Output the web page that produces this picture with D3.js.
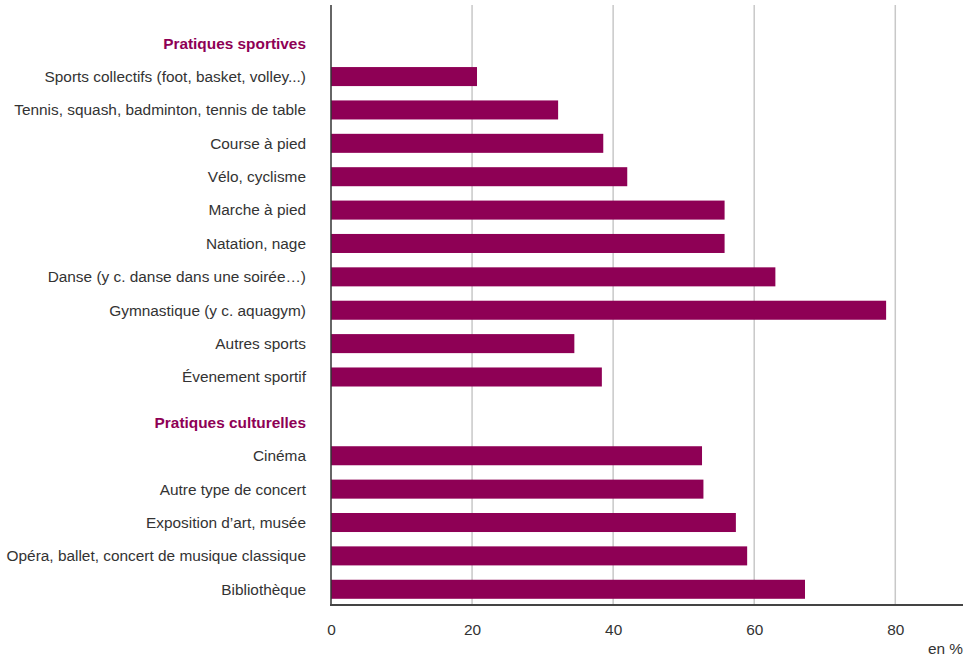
<!DOCTYPE html>
<html>
<head>
<meta charset="utf-8">
<script src="https://cdn.jsdelivr.net/npm/d3@7"></script>
<style>
  body { margin: 0; background: #fff; }
  text { font-family: "Liberation Sans", Arial, sans-serif; }
</style>
</head>
<body>
<script>
// Data
var sportLabels = ["Sports collectifs (foot, basket, volley...)", "Tennis, squash, badminton, tennis de table",
  "Course à pied", "Vélo, cyclisme", "Marche à pied", "Natation, nage",
  "Danse (y c. danse dans une soirée…)", "Gymnastique (y c. aquagym)", "Autres sports", "Évenement sportif"];
var sportValues = [20.7, 32.2, 38.6, 42.0, 55.8, 55.8, 63.0, 78.7, 34.5, 38.4];
var cultureLabels = ["Cinéma", "Autre type de concert", "Exposition d’art, musée",
  "Opéra, ballet, concert de musique classique", "Bibliothèque"];
var cultureValues = [52.6, 52.8, 57.4, 59.0, 67.2];
var groupTitles = ["Pratiques sportives", "Pratiques culturelles"];
var xTicks = [0, 20, 40, 60, 80];

var width = 975, height = 656;
var margin = {top: 5, right: 12, bottom: 51, left: 331};
var purple = "#8e0055";

// rows: header, items, header, items
var rows = [];
rows.push({key: "h0", label: groupTitles[0], header: true, group: 0});
sportLabels.forEach(function(l, i){ rows.push({key: "s" + i, label: l, value: sportValues[i], group: 0}); });
rows.push({key: "h1", label: groupTitles[1], header: true, group: 1});
cultureLabels.forEach(function(l, i){ rows.push({key: "c" + i, label: l, value: cultureValues[i], group: 1}); });

var svg = d3.select("body").append("svg")
  .attr("width", width).attr("height", height);

var x = d3.scaleLinear().domain([0, 89.6]).range([margin.left, width - margin.right]);

var groupGap = 12;
var y = d3.scaleBand()
  .domain(rows.map(function(d){ return d.key; }))
  .range([26.5, 26.5 + 33.38 * rows.length])
  .paddingInner(0.43).paddingOuter(0.215);
function yPos(d){ return y(d.key) + (d.group == 1 ? groupGap : 0); }

var plotBottom = 605;

// grid lines
svg.selectAll(".grid")
  .data(xTicks.slice(1))
  .enter().append("line")
  .attr("x1", function(d){ return x(d); })
  .attr("x2", function(d){ return x(d); })
  .attr("y1", margin.top)
  .attr("y2", plotBottom)
  .attr("stroke", "#c8c8c8")
  .attr("stroke-width", 1.5);

// bars
svg.selectAll(".bar")
  .data(rows.filter(function(d){ return !d.header; }))
  .enter().append("rect")
  .attr("x", x(0))
  .attr("y", function(d){ return yPos(d); })
  .attr("width", function(d){ return x(d.value) - x(0); })
  .attr("height", y.bandwidth())
  .attr("fill", purple);

// labels
svg.selectAll(".lab")
  .data(rows)
  .enter().append("text")
  .attr("x", 306)
  .attr("y", function(d){ return yPos(d) + y.bandwidth() / 2; })
  .attr("dy", "0.35em")
  .attr("text-anchor", "end")
  .attr("font-size", 15.4)
  .attr("font-weight", function(d){ return d.header ? "bold" : "normal"; })
  .attr("fill", function(d){ return d.header ? purple : "#333"; })
  .text(function(d){ return d.label; });

// axes lines
svg.append("line")
  .attr("x1", x(0)).attr("x2", x(0))
  .attr("y1", margin.top).attr("y2", plotBottom)
  .attr("stroke", "#333").attr("stroke-width", 1.5);
svg.append("line")
  .attr("x1", x(0) - 1).attr("x2", width - margin.right)
  .attr("y1", plotBottom).attr("y2", plotBottom)
  .attr("stroke", "#444").attr("stroke-width", 2);

// x tick labels
var xAxis = d3.axisBottom(x).tickValues(xTicks).tickSize(0).tickPadding(19);
var gx = svg.append("g")
  .attr("transform", "translate(0," + plotBottom + ")")
  .call(xAxis);
gx.select(".domain").remove();
gx.selectAll("text")
  .attr("font-size", 15.4)
  .attr("font-family", "Liberation Sans, Arial, sans-serif")
  .attr("fill", "#333");

svg.append("text")
  .attr("x", width - 12)
  .attr("y", 654)
  .attr("text-anchor", "end")
  .attr("font-size", 15.4)
  .attr("fill", "#333")
  .text("en %");
</script>
</body>
</html>
